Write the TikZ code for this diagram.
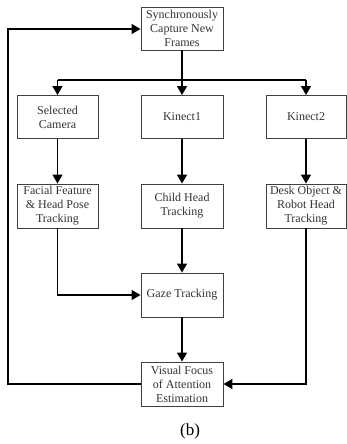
\documentclass[tikz,border=0pt]{standalone}
\usepackage{fontspec}
\setmainfont{Liberation Serif}
\usetikzlibrary{arrows.meta}
\begin{document}
\begin{tikzpicture}[x=1pt,y=1pt,
  box/.style={draw=black!75,line width=0.9pt,minimum width=82pt,minimum height=43pt,inner sep=1pt,align=center,font=\fontsize{12}{14}\selectfont,text=black!80},
  conn/.style={line width=1.3pt},
  arr/.style={conn,-{Triangle[length=9pt,width=10pt]}}]
\useasboundingbox (0,0) rectangle (347,-444);
\node[box] (top) at (182,-28.5) {Synchronously\\Capture New\\Frames};
\node[box,minimum width=81pt] (sel) at (57.5,-117) {Selected\\Camera};
\node[box] (k1) at (182,-117) {Kinect1};
\node[box,minimum width=80pt] (k2) at (306,-117) {Kinect2};
\node[box,minimum width=81pt,minimum height=44pt] (face) at (57.5,-206) {Facial Feature\\\& Head Pose\\Tracking};
\node[box,minimum height=44pt] (child) at (182,-206) {Child Head\\Tracking};
\node[box,minimum width=80pt,minimum height=44pt] (desk) at (306,-206) {Desk Object \&\\Robot Head\\Tracking};
\node[box,minimum height=44pt] (gaze) at (182,-295) {Gaze Tracking};
\node[box,minimum height=44pt] (vfoa) at (182,-384) {Visual Focus\\of Attention\\Estimation};
\node[font=\fontsize{17}{19}\selectfont] (lab) at (190,-431) {(b)};
\coordinate (split) at (182,-80);
\coordinate (splitL) at (57.5,-80);
\coordinate (splitR) at (306,-80);
\coordinate (fbB) at (8,-384);
\coordinate (fbT) at (8,-29);
\draw[conn] (top.south) -- (split);
\draw[arr] (split) -- (k1.north);
\draw[conn] (splitL) -- (splitR);
\draw[arr] (splitL) -- (sel.north);
\draw[arr] (splitR) -- (k2.north);
\draw[arr] (sel) -- (face);
\draw[arr] (k1) -- (child);
\draw[arr] (k2) -- (desk);
\draw[arr] (child) -- (gaze);
\draw[arr] (face.south) |- (gaze.west);
\draw[arr] (gaze) -- (vfoa);
\draw[arr] (desk.south) |- (vfoa.east);
\draw[arr] (vfoa.west) -- (fbB) -- (fbT) -- (top.west |- fbT);
\end{tikzpicture}
\end{document}
